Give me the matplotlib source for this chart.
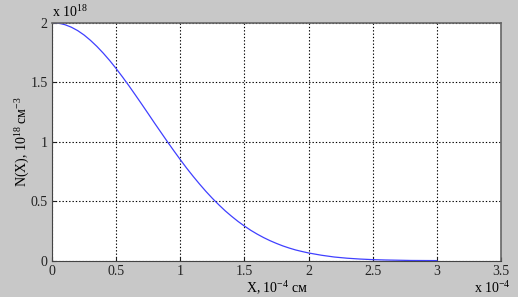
import matplotlib
matplotlib.use('Agg')
import matplotlib.pyplot as plt

# значения (x в 1e-4 см, N в 1e18 см^-3)
x_vals = [0.0, 0.05, 0.1, 0.15, 0.2, 0.25, 0.3, 0.35, 0.4, 0.45, 0.5, 0.55, 0.6, 0.65,
          0.7, 0.75, 0.8, 0.85, 0.9, 0.95, 1.0, 1.05, 1.1, 1.15, 1.2, 1.25, 1.3, 1.35,
          1.4, 1.45, 1.5, 1.55, 1.6, 1.65, 1.7, 1.75, 1.8, 1.85, 1.9, 1.95, 2.0,
          2.1, 2.2, 2.3, 2.4, 2.5, 2.6, 2.7, 2.8, 2.9, 3.0]
n_vals = [2.000, 1.996, 1.983, 1.962, 1.933, 1.896, 1.851, 1.800, 1.743, 1.681, 1.614, 1.543,
          1.469, 1.392, 1.314, 1.235, 1.155, 1.077, 0.999, 0.923, 0.849, 0.777, 0.709, 0.644,
          0.582, 0.524, 0.470, 0.419, 0.373, 0.330, 0.291, 0.255, 0.223, 0.194, 0.168, 0.145,
          0.124, 0.106, 0.090, 0.077, 0.065,
          0.046, 0.031, 0.021, 0.014, 0.009, 0.006, 0.004, 0.002, 0.0015, 0.001]
x_ticks = [0, 0.5, 1, 1.5, 2, 2.5, 3, 3.5]
y_ticks = [0, 0.5, 1, 1.5, 2]

plt.rcParams['font.family'] = ['Liberation Serif', 'DejaVu Serif']
plt.rcParams['mathtext.fontset'] = 'custom'
plt.rcParams['mathtext.rm'] = 'Liberation Serif'
plt.rcParams['mathtext.it'] = 'Liberation Serif'

fig = plt.figure(figsize=(5.18, 2.97), dpi=100, facecolor='#c8c8c8')
ax = fig.add_axes([0.1004, 0.1222, 0.8668, 0.8016])
ax.set_facecolor('white')

ax.plot(x_vals, n_vals, color='#4040ff', linewidth=0.9)

ax.set_xlim(0, 3.5)
ax.set_ylim(0, 2)
ax.set_xticks(x_ticks)
ax.set_xticklabels([f'{t:g}' for t in x_ticks])
ax.set_yticks(y_ticks)
ax.set_yticklabels([f'{t:g}' for t in y_ticks])
ax.tick_params(direction='in', length=3, labelsize=10, colors='#222222', pad=3)
ax.grid(True, linestyle=(0, (1.2, 1.8)), color='black', linewidth=0.8)

for side in ['left', 'bottom']:
    ax.spines[side].set_color('#444444')
for side in ['top', 'right']:
    ax.spines[side].set_color('#666666')
    ax.spines[side].set_linewidth(1.2)

ax.set_xlabel(r'X, 10$^{\mathregular{-4}}$ см', fontsize=10, labelpad=1)
ax.set_ylabel(r'N(X), 10$^{\mathregular{18}}$ см$^{\mathregular{-3}}$', fontsize=10, labelpad=-1)

fig.text(0.1, 0.932, r'x 10$^{\mathregular{18}}$', fontsize=10, ha='left', va='bottom')
fig.text(0.985, 0.005, r'x 10$^{\mathregular{-4}}$', fontsize=10, ha='right', va='bottom')

fig.savefig('out.png', dpi=100, facecolor=fig.get_facecolor())
